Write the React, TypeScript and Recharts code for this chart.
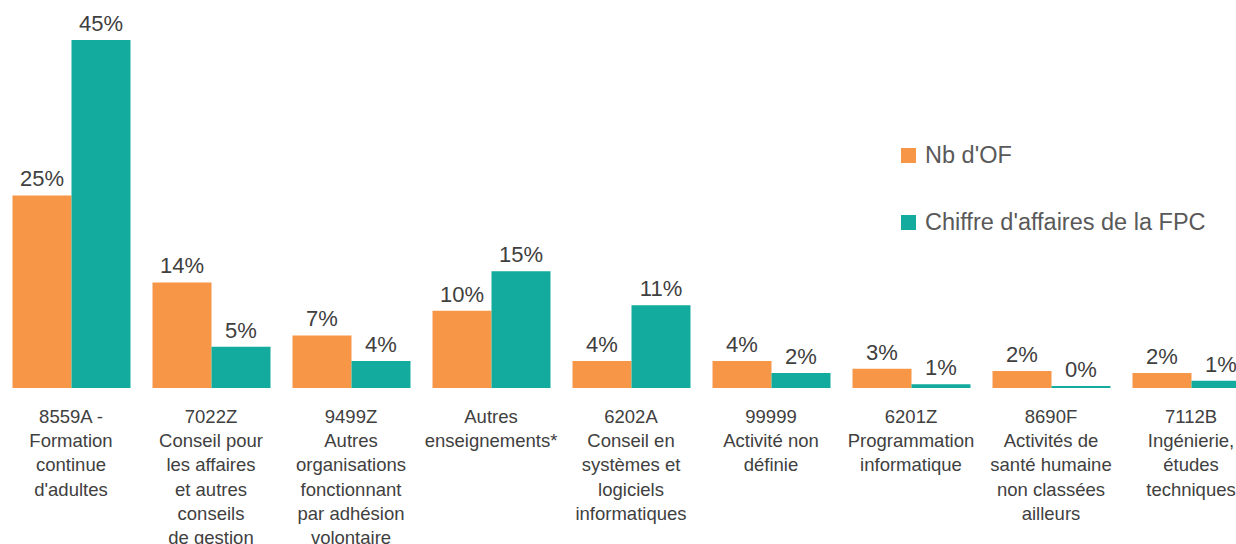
import React from "react";
import { BarChart, Bar, XAxis, YAxis, Legend, LabelList } from "recharts";

const categories: string[] = [
  "8559A -\nFormation\ncontinue\nd'adultes",
  "7022Z\nConseil pour\nles affaires\net autres\nconseils\nde gestion",
  "9499Z\nAutres\norganisations\nfonctionnant\npar adhésion\nvolontaire",
  "Autres\nenseignements*",
  "6202A\nConseil en\nsystèmes et\nlogiciels\ninformatiques",
  "99999\nActivité non\ndéfinie",
  "6201Z\nProgrammation\ninformatique",
  "8690F\nActivités de\nsanté humaine\nnon classées\nailleurs",
  "7112B\nIngénierie,\nétudes\ntechniques",
];

const seriesNames = ["Nb d'OF", "Chiffre d'affaires de la FPC"];
const nbOF: number[] = [24.9, 13.65, 6.8, 10.0, 3.5, 3.5, 2.5, 2.2, 1.94];
const chiffreAffaires: number[] = [45, 5.34, 3.5, 15.1, 10.7, 1.94, 0.5, 0.26, 0.95];

const data = categories.map((c, i) => ({
  cat: c,
  of: nbOF[i],
  ca: chiffreAffaires[i],
}));

const FONT = "'Liberation Sans', Arial, sans-serif";
const ORANGE = "#F79646";
const TEAL = "#12AB9E";

const CategoryTick = (props: any) => {
  const { x, y, payload } = props;
  const lines = String(payload.value).split("\n");
  return (
    <text
      x={x}
      y={y + 35}
      textAnchor="middle"
      fill="#404040"
      fontSize={18.5}
      fontFamily={FONT}
    >
      {lines.map((l, i) => (
        <tspan key={i} x={x} dy={i === 0 ? 0 : 24.2}>
          {l}
        </tspan>
      ))}
    </text>
  );
};

const renderLegend = (props: any) => {
  const payload = [...(props.payload || [])].sort(
    (a: any, b: any) => seriesNames.indexOf(a.value) - seriesNames.indexOf(b.value)
  );
  return (
    <div style={{ fontFamily: FONT }}>
      {payload.map((e: any, i: number) => (
        <div
          key={i}
          style={{ display: "flex", alignItems: "center", height: 67 }}
        >
          <span
            style={{
              display: "inline-block",
              width: 15,
              height: 15,
              background: e.color,
              marginRight: 9,
            }}
          />
          <span style={{ fontSize: 23.5, color: "#595959", whiteSpace: "nowrap" }}>
            {e.value}
          </span>
        </div>
      ))}
    </div>
  );
};

const fmt = (v: any) => `${Math.round(Number(v))}%`;

export default function App() {
  return (
    <div
      style={{
        position: "absolute",
        left: 0,
        top: 0,
        width: 1236,
        height: 544,
        overflow: "hidden",
        background: "#ffffff",
        fontFamily: FONT,
      }}
    >
      <BarChart
        width={1261}
        height={544}
        data={data}
        margin={{ top: 40, right: 0, left: 1, bottom: 0 }}
        barCategoryGap={11.5}
        barGap={0}
      >
        <XAxis
          dataKey="cat"
          interval={0}
          height={156}
          tickLine={false}
          axisLine={false}
          tickSize={0}
          tickMargin={0}
          tick={<CategoryTick />}
        />
        <YAxis hide domain={[0, 45]} />
        <Legend
          content={renderLegend}
          layout="vertical"
          align="center"
          verticalAlign="middle"
          wrapperStyle={{ position: "absolute", left: 901, top: 122, width: 335 }}
        />
        <Bar dataKey="of" name={seriesNames[0]} fill={ORANGE} isAnimationActive={false}>
          <LabelList
            dataKey="of"
            position="top"
            offset={9}
            formatter={fmt}
            fill="#404040"
            fontSize={22}
            fontFamily={FONT}
          />
        </Bar>
        <Bar dataKey="ca" name={seriesNames[1]} fill={TEAL} isAnimationActive={false}>
          <LabelList
            dataKey="ca"
            position="top"
            offset={9}
            formatter={fmt}
            fill="#404040"
            fontSize={22}
            fontFamily={FONT}
          />
        </Bar>
      </BarChart>
    </div>
  );
}
